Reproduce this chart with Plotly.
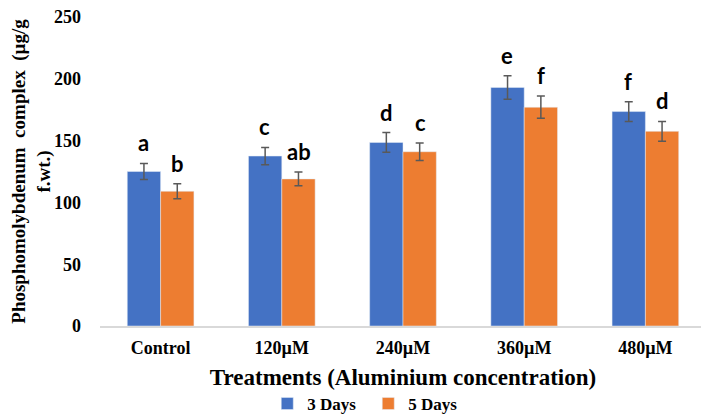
import plotly.graph_objects as go

treatments = ['Control', '120µM', '240µM', '360µM', '480µM']
days3 = [125, 137.5, 148.5, 193, 173.5]
days3_err = [6.5, 7, 8, 9.5, 8]
days5 = [109, 119, 141, 177, 157.5]
days5_err = [6, 5.5, 7, 9, 8]
days3_letters = ['a', 'c', 'd', 'e', 'f']
days5_letters = ['b', 'ab', 'c', 'f', 'd']

serif = 'Liberation Serif'

fig = go.Figure()
fig.add_trace(go.Bar(x=treatments, y=days3, name='<b>3 Days</b>', marker_color='#4472C4',
                     error_y=dict(type='data', array=days3_err, color='#595959', thickness=1.5, width=4)))
fig.add_trace(go.Bar(x=treatments, y=days5, name='<b>5 Days</b>', marker_color='#ED7D31',
                     error_y=dict(type='data', array=days5_err, color='#595959', thickness=1.5, width=4)))

# significance letters above the error bars
for i, t in enumerate(treatments):
    for val, err, lab, shift in [(days3[i], days3_err[i], days3_letters[i], -17),
                                 (days5[i], days5_err[i], days5_letters[i], 17)]:
        fig.add_annotation(x=t, y=val + err, text='<b>' + lab + '</b>', showarrow=False,
                           xshift=shift, yshift=5, yanchor='bottom',
                           font=dict(family='Lato', size=22, color='black'))

# page body adds an 8px offset, so the figure is 8px smaller than the window
fig.update_layout(
    width=701, height=408,
    margin=dict(l=92, r=3, t=9, b=90, autoexpand=False),
    plot_bgcolor='white', paper_bgcolor='white',
    barmode='group', bargap=0.45, bargroupgap=0,
    showlegend=True,
    legend=dict(orientation='h', x=0.276, xanchor='left', y=-0.194, yanchor='top',
                font=dict(family=serif, size=17, color='black'),
                itemwidth=30, entrywidth=56, entrywidthmode='pixels', tracegroupgap=0),
    font=dict(family=serif, color='black'),
)
fig.update_xaxes(
    showline=True, linecolor='#D9D9D9', linewidth=1.5, ticks='', automargin=False,
    tickfont=dict(family=serif, size=18, color='black'),
    ticklabelstandoff=5,
    title=dict(text='<b>Treatments (Aluminium concentration)</b>',
               font=dict(family=serif, size=23, color='black'), standoff=12),
    tickprefix='<b>', ticksuffix='</b>',
)
fig.update_yaxes(
    range=[0, 250], dtick=50, showgrid=False, zeroline=False, showline=False, automargin=False,
    ticklabeloverflow='allow',
    tickfont=dict(family=serif, size=18, color='black'),
    tickprefix='<b>', ticksuffix='</b>', ticklabelstandoff=18,
    title=dict(text='<b>Phosphomolybdenum  complex  (µg/g<br>f.wt.)</b>',
               font=dict(family=serif, size=19, color='black'), standoff=15),
)

fig.write_html('out.html')
